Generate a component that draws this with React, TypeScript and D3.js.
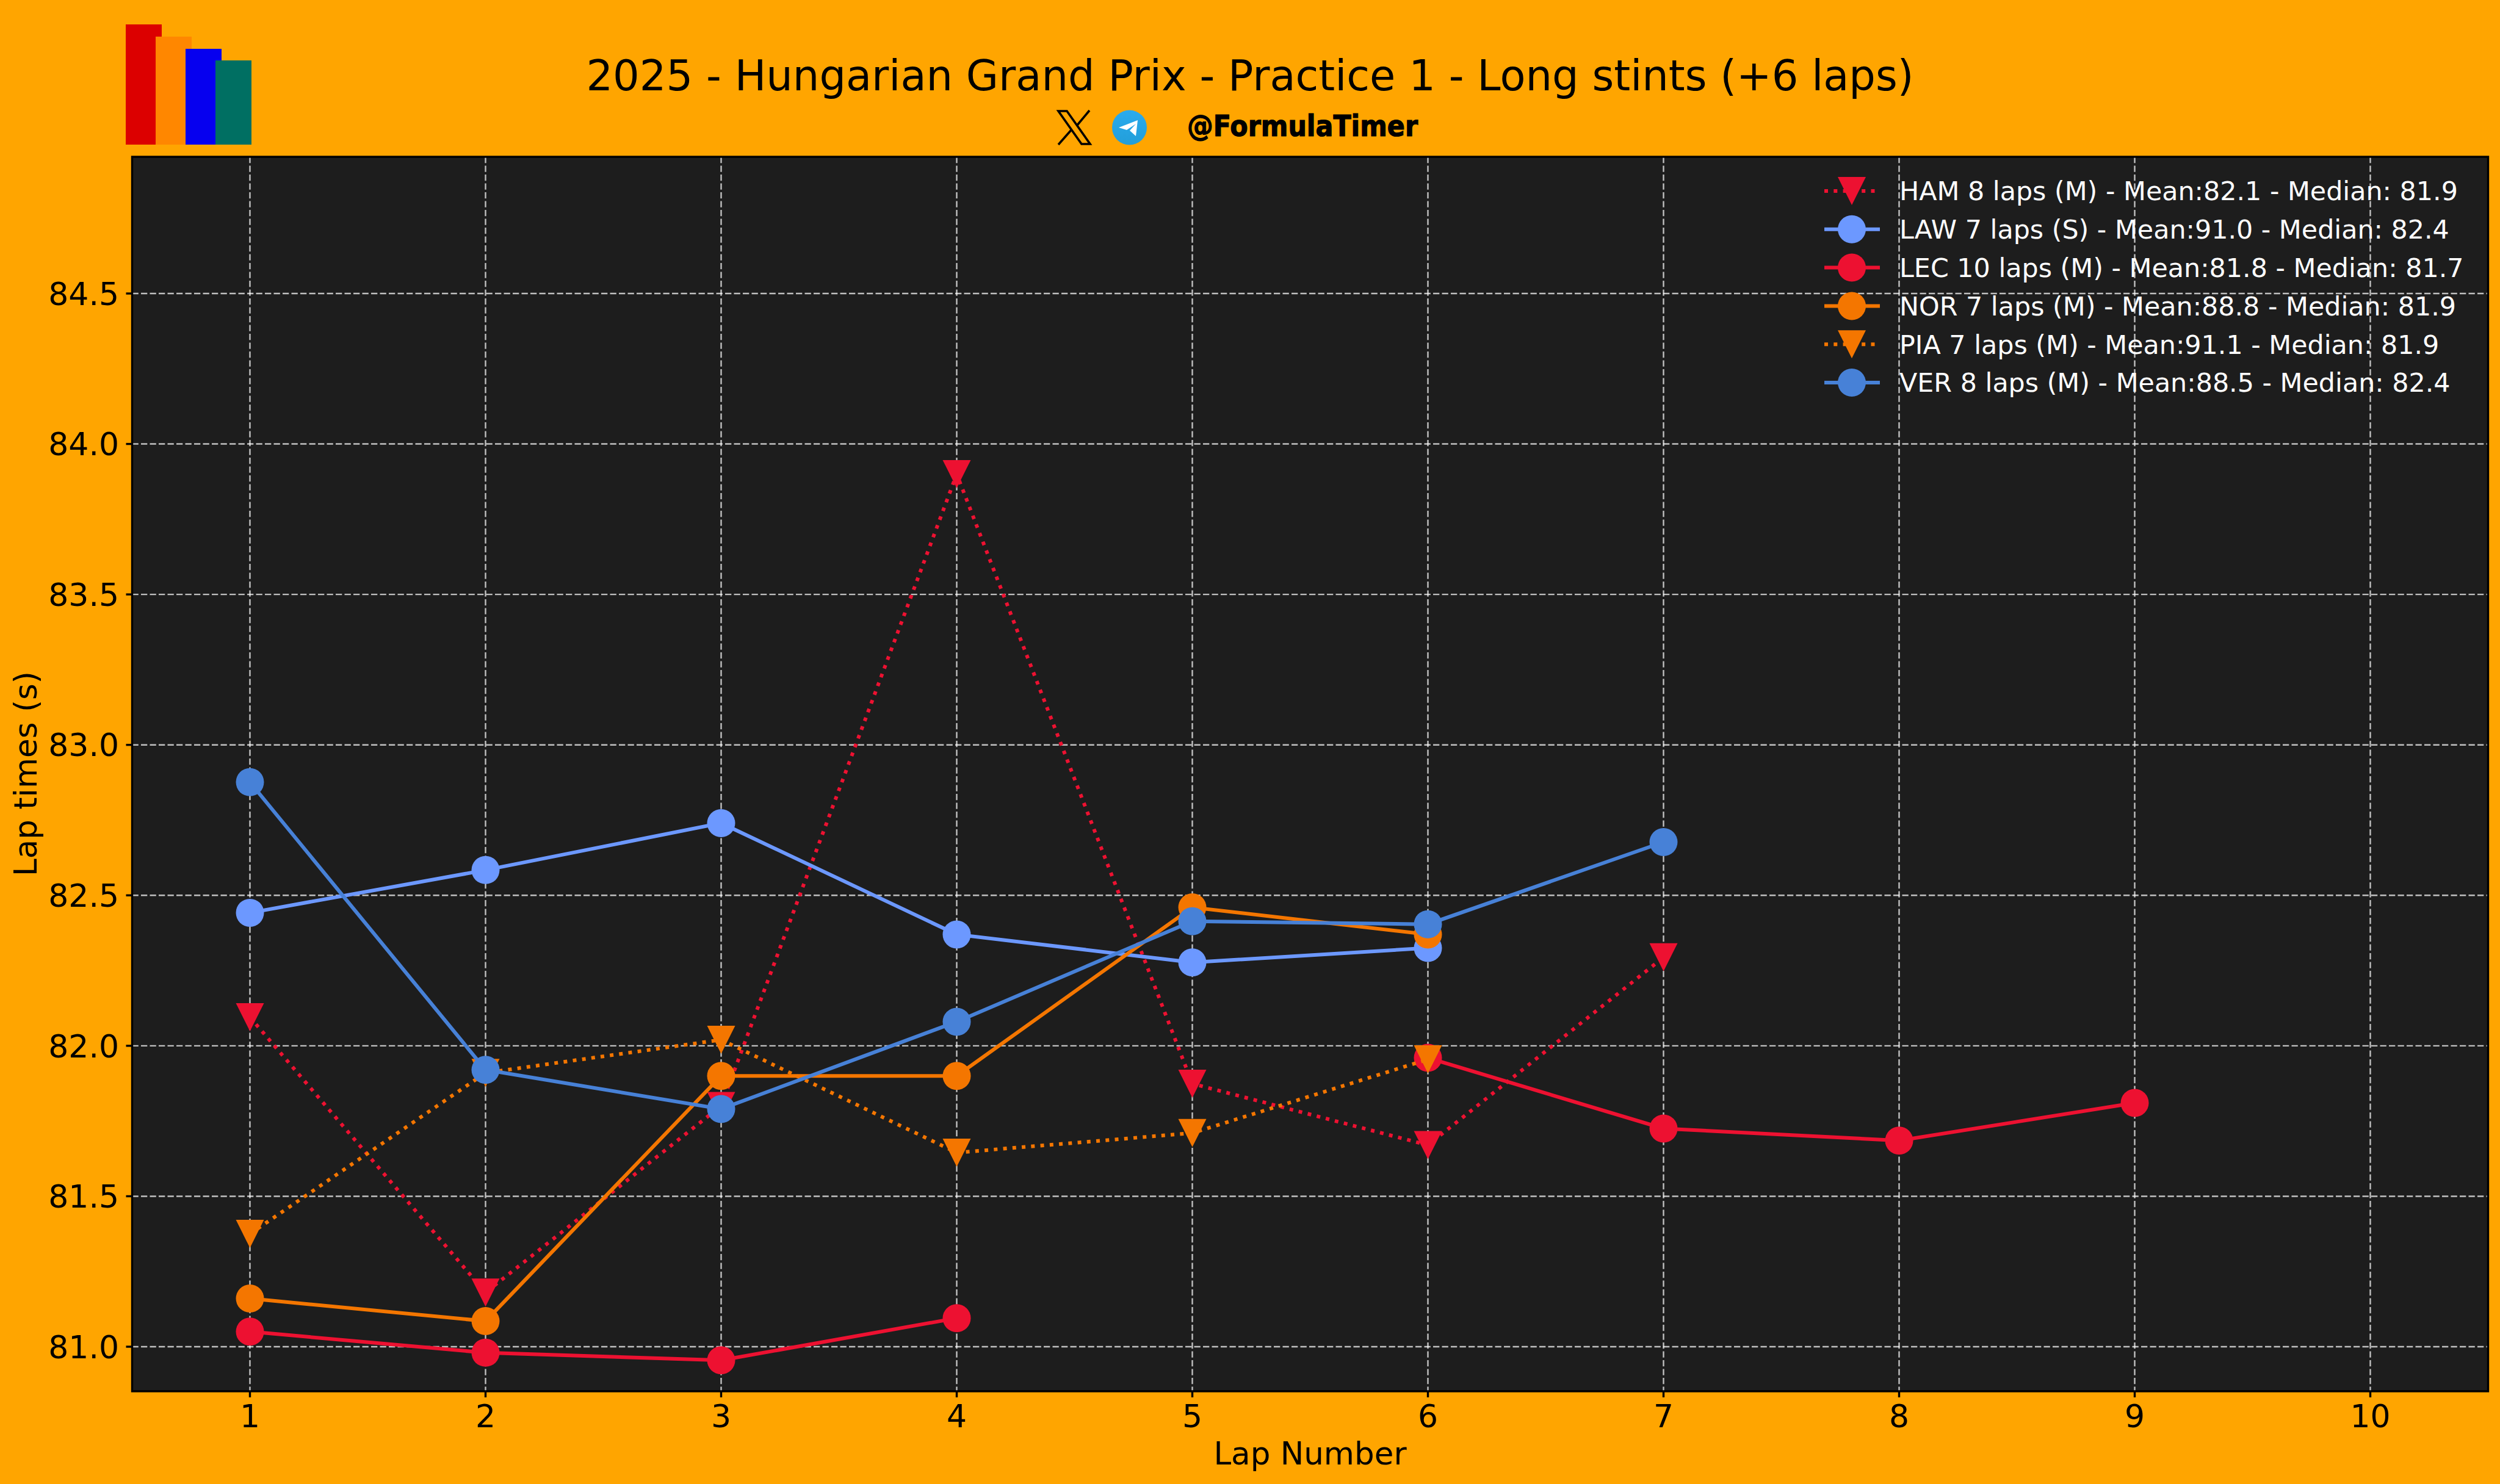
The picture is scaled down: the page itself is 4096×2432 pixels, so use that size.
import React from "react";
import * as d3 from "d3";

const W = 4096, H = 2432;
const laps = [1, 2, 3, 4, 5, 6, 7, 8, 9, 10];
const yTicks = [81, 81.5, 82, 82.5, 83, 83.5, 84, 84.5];

const hamTimes = [82.095, 81.18, 81.8, 83.9, 81.874, 81.67, 82.294];
const lawTimes = [82.442, 82.584, 82.74, 82.37, 82.277, 82.325];
const lecTimes = [81.05, 80.98, 80.955, 81.095, null, 81.96, 81.725, 81.685, 81.81];
const norTimes = [81.16, 81.085, 81.9, 81.9, 82.46, 82.37];
const piaTimes = [81.375, 81.91, 82.02, 81.645, 81.71, 81.955];
const verTimes = [82.876, 81.92, 81.79, 82.08, 82.414, 82.404, 82.677];

const drivers = ["HAM", "LAW", "LEC", "NOR", "PIA", "VER"];
const driverTimes = [hamTimes, lawTimes, lecTimes, norTimes, piaTimes, verTimes];
const driverColors = ["#ED1131", "#6C98FF", "#ED1131", "#F47600", "#F47600", "#4781D7"];
const driverDotted = [true, false, false, false, true, false];
const legendLabels = [
  "HAM 8 laps (M) - Mean:82.1 - Median: 81.9",
  "LAW 7 laps (S) - Mean:91.0 - Median: 82.4",
  "LEC 10 laps (M) - Mean:81.8 - Median: 81.7",
  "NOR 7 laps (M) - Mean:88.8 - Median: 81.9",
  "PIA 7 laps (M) - Mean:91.1 - Median: 81.9",
  "VER 8 laps (M) - Mean:88.5 - Median: 82.4",
];

const logoHeights = [197, 177, 157, 138];
const logoColors = ["#DC0000", "#FF8700", "#0600EF", "#006F62"];

const FONT = "'DejaVu Sans', sans-serif";
const plot = { left: 216.5, right: 4076.5, top: 257, bottom: 2280 };
const x = d3.scaleLinear().domain([0.5, 10.5]).range([plot.left, plot.right]);
const y = d3.scaleLinear().domain([81, 84.5]).range([2207, 481]);

const MS = 46;
const triangleDown = {
  draw(ctx: any) {
    const r = MS / 2;
    ctx.moveTo(-r, -r);
    ctx.lineTo(r, -r);
    ctx.lineTo(0, r);
    ctx.closePath();
  },
};
const markerPath = (dotted: boolean) =>
  dotted
    ? d3.symbol().type(triangleDown as any)()
    : d3.symbol().type(d3.symbolCircle).size((Math.PI * MS * MS) / 4)();

const lineGen = d3
  .line<number | null>()
  .defined((d) => d !== null)
  .x((_, i) => x(laps[i]))
  .y((d) => y(d as number));

const LW = 6;
const DOT = "6 9.3";
const GRID_W = 2.4;
const GRID_DASH = "10.3 4.2";

function Logo() {
  const bx = d3.scaleLinear().domain([0, 1]).range([206, 255]);
  return (
    <g>
      {logoHeights.map((h, i) => (
        <rect key={i} x={bx(i)} y={237 - h} width={59} height={h} fill={logoColors[i]} />
      ))}
    </g>
  );
}

function Social() {
  return (
    <g>
      <defs>
        <linearGradient id="tg" x1="0" y1="0" x2="0" y2="1">
          <stop offset="0" stopColor="#2AABEE" />
          <stop offset="1" stopColor="#229ED9" />
        </linearGradient>
      </defs>
      <g transform="translate(1733,181)">
        <path d="M1 1 L15 1 L53 55 L39 55 Z" fill="none" stroke="#000" strokeWidth="3.6" />
        <path d="M52 0 L32 24 M1 56 L23 31" fill="none" stroke="#000" strokeWidth="3.6" />
      </g>
      <circle cx={1850.5} cy={209} r={28.5} fill="url(#tg)" />
      <path d="M1833 209 L1864 197 L1861 223 L1851 214 L1861 203 L1846 213 Z" fill="#fff" />
      <text x={1945} y={223} fontFamily={FONT} fontWeight="bold" fontSize={48} textLength={378} lengthAdjust="spacingAndGlyphs" fill="#000" stroke="#000" strokeWidth={1.2}>
        @FormulaTimer
      </text>
    </g>
  );
}

export default function App() {
  const legendY = d3.scaleLinear().domain([0, 5]).range([313, 627]);
  return (
    <svg
      width={W}
      height={H}
      viewBox={`0 0 ${W} ${H}`}
      style={{ position: "absolute", left: 0, top: 0, display: "block" }}
    >
      <rect width={W} height={H} fill="#FFA500" />
      <rect x={plot.left} y={plot.top} width={plot.right - plot.left} height={plot.bottom - plot.top} fill="#1D1D1D" />

      {laps.map((l) => (
        <line key={l} x1={x(l)} x2={x(l)} y1={plot.top} y2={plot.bottom} stroke="#fff" strokeOpacity={0.72} strokeWidth={GRID_W} strokeDasharray={GRID_DASH} />
      ))}
      {yTicks.map((t) => (
        <line key={t} x1={plot.left} x2={plot.right} y1={y(t)} y2={y(t)} stroke="#fff" strokeOpacity={0.72} strokeWidth={GRID_W} strokeDasharray={GRID_DASH} />
      ))}

      {drivers.map((d, i) => (
        <g key={d}>
          <path d={lineGen(driverTimes[i]) || ""} fill="none" stroke={driverColors[i]} strokeWidth={LW} strokeDasharray={driverDotted[i] ? DOT : undefined} />
          {driverTimes[i].map((v, j) =>
            v === null ? null : (
              <path key={j} d={markerPath(driverDotted[i]) || ""} transform={`translate(${x(laps[j])},${y(v)})`} fill={driverColors[i]} />
            )
          )}
        </g>
      ))}

      <rect x={plot.left} y={plot.top} width={plot.right - plot.left} height={plot.bottom - plot.top} fill="none" stroke="#000" strokeWidth={3.4} />

      {laps.map((l) => (
        <g key={l}>
          <line x1={x(l)} x2={x(l)} y1={plot.bottom} y2={plot.bottom + 10} stroke="#000" strokeWidth={3.4} />
          <text x={x(l)} y={2339} textAnchor="middle" fontFamily={FONT} fontSize={52} fill="#000">{l}</text>
        </g>
      ))}
      {yTicks.map((t) => (
        <g key={t}>
          <line x1={plot.left - 10} x2={plot.left} y1={y(t)} y2={y(t)} stroke="#000" strokeWidth={3.4} />
          <text x={195} y={y(t)} dy="0.36em" textAnchor="end" fontFamily={FONT} fontSize={52} fill="#000">{t.toFixed(1)}</text>
        </g>
      ))}

      <text x={2146.5} y={2400} textAnchor="middle" fontFamily={FONT} fontSize={51.5} fill="#000">Lap Number</text>
      <text transform="translate(60,1268) rotate(-90)" textAnchor="middle" fontFamily={FONT} fontSize={51.5} fill="#000">Lap times (s)</text>

      <text x={2048} y={148} textAnchor="middle" fontFamily={FONT} fontSize={68.7} fill="#000">
        2025 - Hungarian Grand Prix - Practice 1 - Long stints (+6 laps)
      </text>

      <Logo />
      <Social />

      {legendLabels.map((label, i) => {
        const ly = legendY(i);
        return (
          <g key={label}>
            <line x1={2989} x2={3080} y1={ly} y2={ly} stroke={driverColors[i]} strokeWidth={LW} strokeDasharray={driverDotted[i] ? DOT : undefined} />
            <path d={markerPath(driverDotted[i]) || ""} transform={`translate(3034,${ly})`} fill={driverColors[i]} />
            <text x={3112} y={ly} dy="0.36em" fontFamily={FONT} fontSize={42.8} fill="#fff">{label}</text>
          </g>
        );
      })}
    </svg>
  );
}
